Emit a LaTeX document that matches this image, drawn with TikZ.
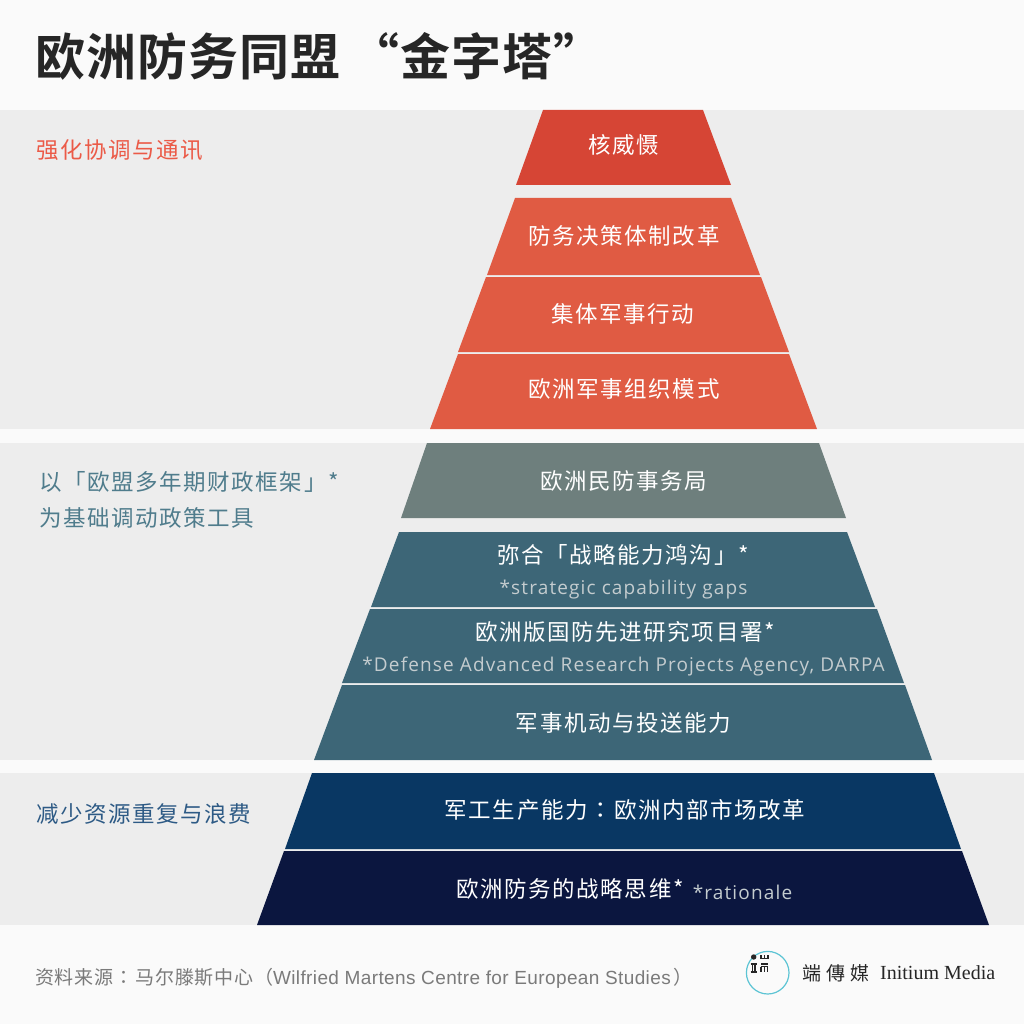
\documentclass[tikz,border=0pt]{standalone}
\usepackage{fontspec}
\setmainfont{Liberation Sans}
\newfontfamily\cjk[LetterSpace=7]{Noto Sans CJK SC}
\newfontfamily\cjkcolon[LetterSpace=7]{Noto Sans CJK TC}
\newfontfamily\cjktitle[LetterSpace=2]{Noto Sans CJK SC Bold}
\newfontfamily\cjkfoot[LetterSpace=4]{Noto Sans CJK SC}
\newfontfamily\cjkfootcolon[LetterSpace=4]{Noto Sans CJK TC}
\newfontfamily\footlatin[LetterSpace=2]{Liberation Sans}
\newfontfamily\cjklogo[LetterSpace=26]{Noto Sans CJK TC}
\newfontfamily\latinsub[LetterSpace=6]{Open Sans}
\newfontfamily\logolatin{Liberation Serif}
\definecolor{bandgray}{HTML}{EDEDED}
\definecolor{pagebg}{HTML}{FAFAFA}
\definecolor{redA}{HTML}{D64535}
\definecolor{redB}{HTML}{E05B43}
\definecolor{grayC}{HTML}{6E7F7D}
\definecolor{tealD}{HTML}{3D6677}
\definecolor{navyE}{HTML}{093763}
\definecolor{darkF}{HTML}{0B163F}
\definecolor{lblred}{HTML}{EB5A47}
\definecolor{lblteal}{HTML}{4F7C8C}
\definecolor{lblblue}{HTML}{2D5A85}
\definecolor{foot}{HTML}{7A7A7A}
\definecolor{subtxt}{HTML}{C4CCCF}
\definecolor{logoring}{HTML}{5CC4D4}
\tikzset{
  band/.style={fill=bandgray,draw=none},
  tier/.style={draw=none},
  tiertext/.style={text=white,inner sep=0pt,anchor=center,font=\cjk\fontsize{22.5}{26}\selectfont},
  subtext/.style={text=subtxt,inner sep=0pt,anchor=center,font=\latinsub\fontsize{19}{23}\selectfont},
  sidelabel/.style={inner sep=0pt,anchor=west,font=\cjk\fontsize{22.5}{26}\selectfont},
}
\begin{document}
\begin{tikzpicture}[x=1pt,y=-1pt]
\useasboundingbox (0,0) rectangle (1024,1024);
\fill[pagebg] (0,0) rectangle (1024,1024);
\fill[band] (0,110) rectangle (1024,429);
\fill[band] (0,443) rectangle (1024,760);
\fill[band] (0,773) rectangle (1024,925);
% tiers
\fill[tier,redA] (543,110) -- (703,110) -- (731,185) -- (516,185) -- cycle;
\fill[tier,redB] (515,198) -- (731,198) -- (760,275) -- (487,275) -- cycle;
\fill[tier,redB] (486,277) -- (761,277) -- (789,352) -- (458,352) -- cycle;
\fill[tier,redB] (458,354) -- (789,354) -- (817,429) -- (430,429) -- cycle;
\fill[tier,grayC] (427,443) -- (819,443) -- (846,518) -- (401,518) -- cycle;
\fill[tier,tealD] (399,532) -- (847,532) -- (875,607) -- (371,607) -- cycle;
\fill[tier,tealD] (370,609) -- (877,609) -- (904,683) -- (342,683) -- cycle;
\fill[tier,tealD] (342,685) -- (905,685) -- (932,760) -- (314,760) -- cycle;
\fill[tier,navyE] (312,773) -- (934,773) -- (961,849) -- (285,849) -- cycle;
\fill[tier,darkF] (284,851) -- (962,851) -- (989,925) -- (257,925) -- cycle;
% title
\node[inner sep=0pt,anchor=west,text=black!85] (title) at (35,56.5) {\cjktitle\fontsize{50}{55}\selectfont 欧洲防务同盟 \hspace{-3pt}“金字塔”};
% tier text
\node[tiertext] (t1) at (623.5,145) {核威慑};
\node[tiertext] (t2) at (624,236) {防务决策体制改革};
\node[tiertext] (t3) at (623,314) {集体军事行动};
\node[tiertext] (t4) at (624,389) {欧洲军事组织模式};
\node[tiertext] (t5) at (623.5,481) {欧洲民防事务局};
\node[tiertext] (t6) at (623,555) {弥合「战略能力鸿沟」*};
\node[subtext] (s6) at (623.5,590) {*strategic capability gaps};
\node[tiertext] (t7) at (625,632) {欧洲版国防先进研究项目署*};
\node[subtext] (s7) at (623.5,667) {*Defense Advanced Research Projects Agency, DARPA};
\node[tiertext] (t8) at (623.5,723) {军事机动与投送能力};
\node[tiertext] (t9) at (625,810) {军工生产能力\hspace{2pt}{\cjkcolon：}\hspace{2pt}欧洲内部市场改革};
\node[tiertext] (t10) at (570,889) {欧洲防务的战略思维*};
\node[subtext] (s10) at (742.5,892) {*rationale};
% side labels
\node[sidelabel,text=lblred] (l1) at (36,150) {强化协调与通讯};
\node[sidelabel,text=lblteal] (l2a) at (39,482) {以「欧盟多年期财政框架」*};
\node[sidelabel,text=lblteal] (l2b) at (39,518) {为基础调动政策工具};
\node[sidelabel,text=lblblue] (l3) at (36,814) {减少资源重复与浪费};
% footer
\node[inner sep=0pt,anchor=west,text=foot] (src) at (35,978) {\cjkfoot\fontsize{19}{23}\selectfont 资料来源\hspace{1.5pt}{\cjkfootcolon：}\hspace{1.5pt}马尔滕斯中心（{\footlatin\fontsize{19}{23}\selectfont Wilfried Martens Centre for European Studies}\hspace{3pt}）};
% logo
\draw[logoring,line width=1.2pt] (767.7,972.7) circle (21.3);
\fill[black!85] (753.7,957) circle (2.7);
\draw[black!85,line width=1.1pt] (750.5,964) -- (757,964) (750.5,972) -- (757,972) (752.5,964) -- (752.5,972) (755,964) -- (755,972);
\draw[black!85,line width=1.1pt] (761,955) -- (761,958.7) -- (768,958.7) -- (768,955) (764.5,955) -- (764.5,958.7);
\draw[black!85,line width=1.1pt] (761,964) -- (768,964) (761,966.5) -- (768,966.5) (761,966.5) -- (761,972) (764.5,966.5) -- (764.5,972) (767.7,966.5) -- (767.7,972);
\node[inner sep=0pt,anchor=west,text=black!85] (lg1) at (802,973) {\cjklogo\fontsize{19}{22}\selectfont 端傳媒};
\node[inner sep=0pt,anchor=west,text=black!85] (lg2) at (880,973) {\logolatin\fontsize{20}{23}\selectfont Initium Media};
\end{tikzpicture}
\end{document}
